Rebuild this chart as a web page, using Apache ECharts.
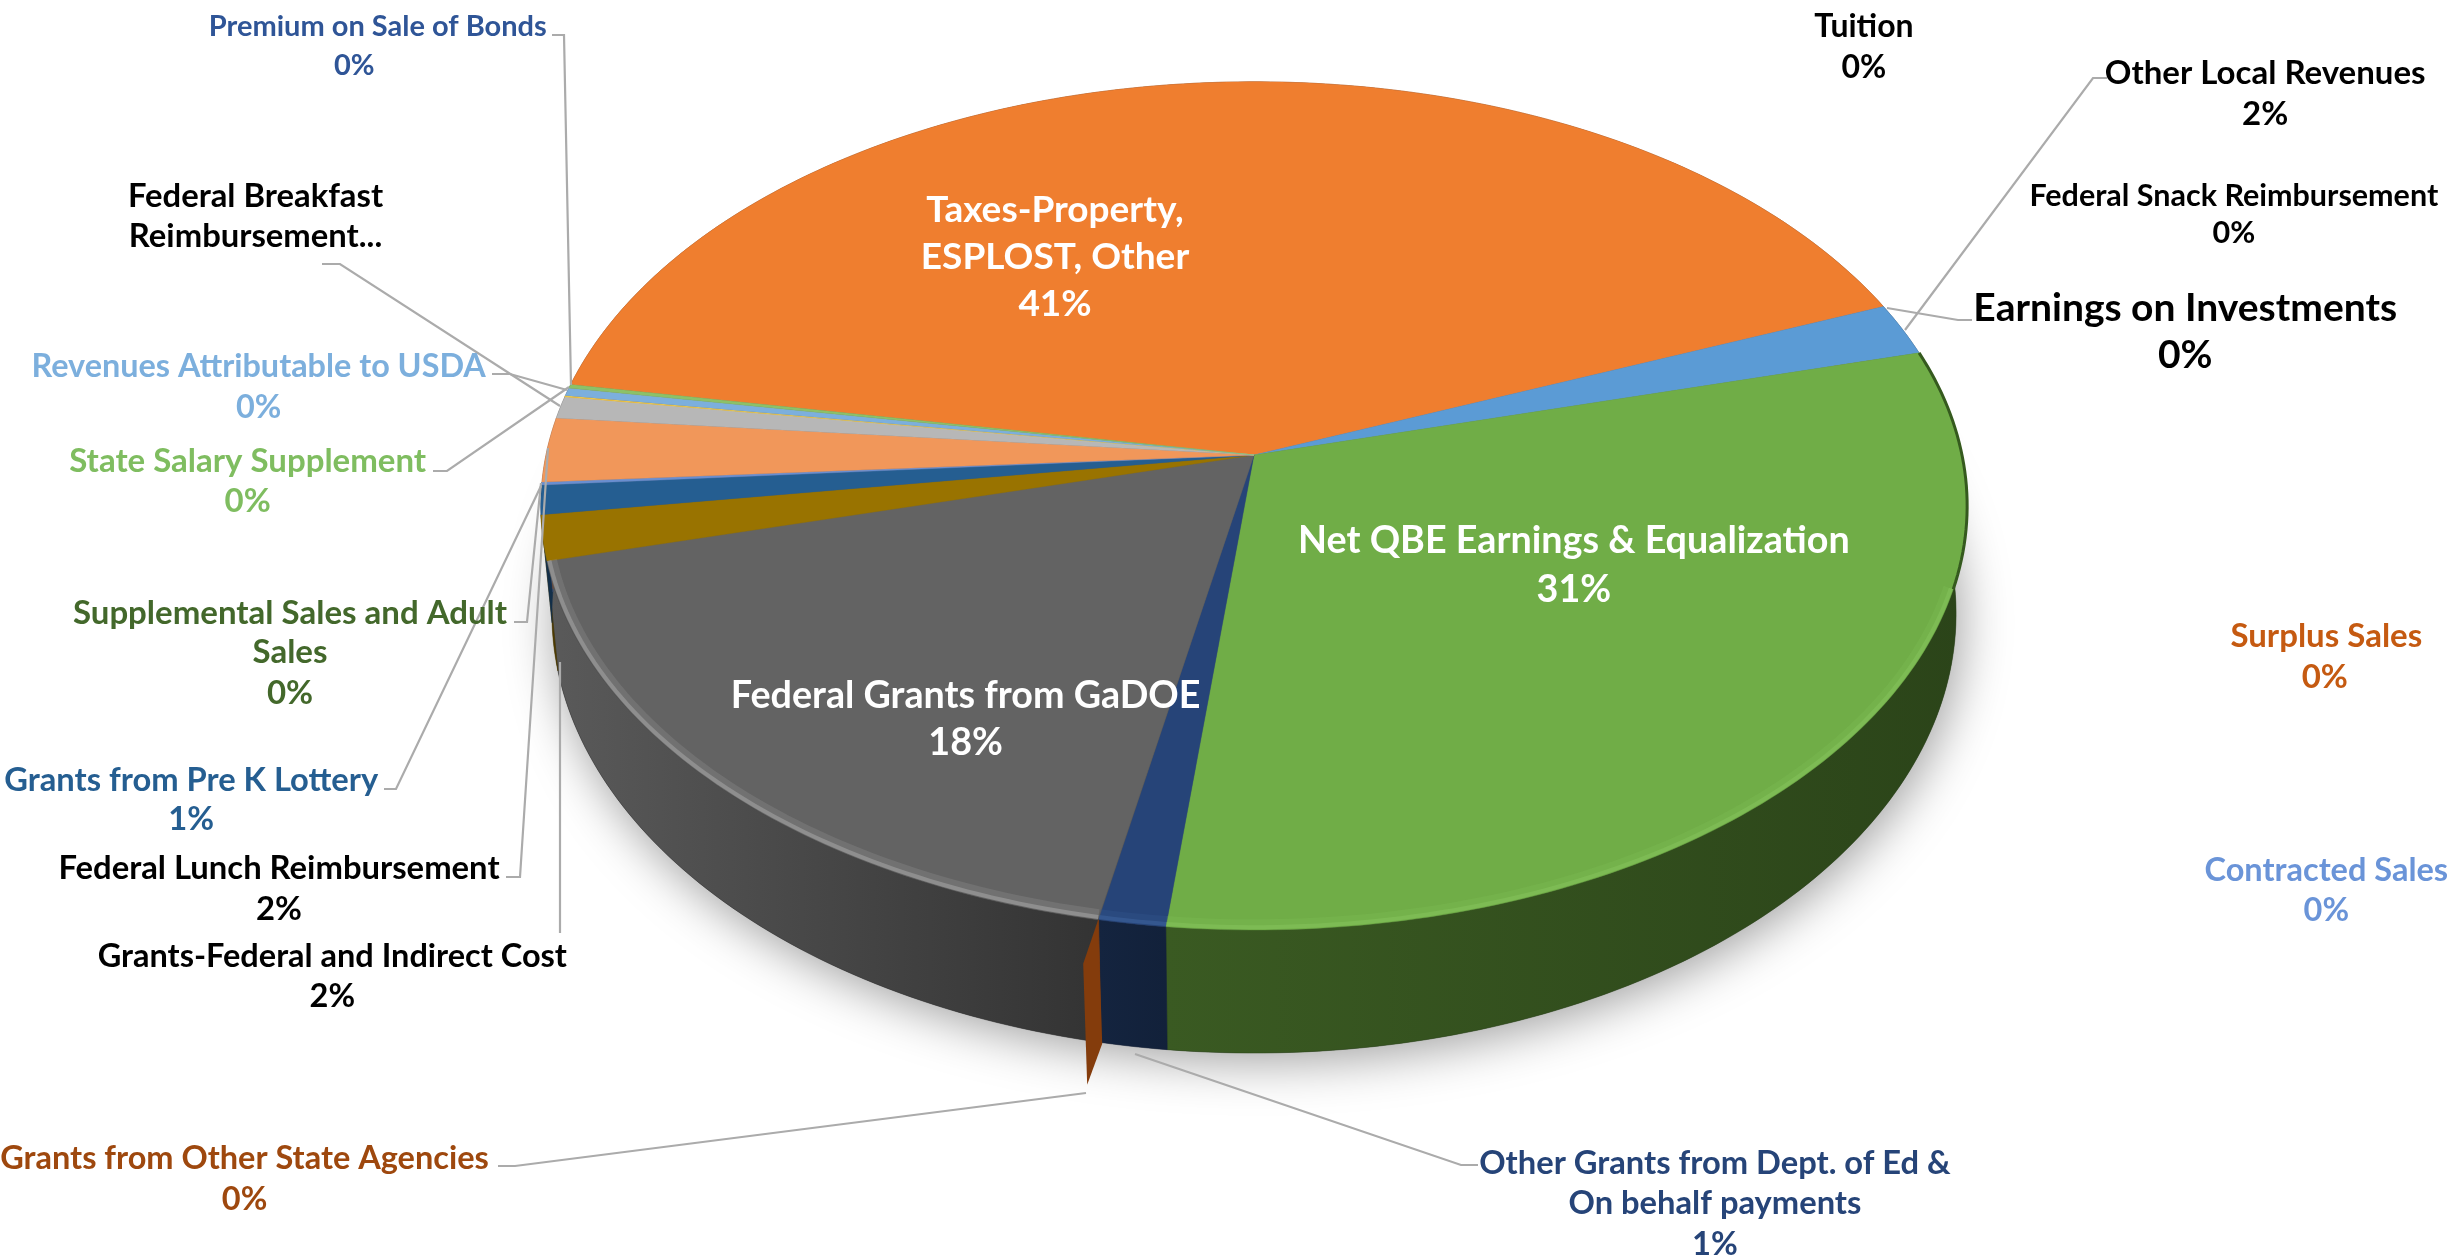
<!DOCTYPE html>
<html><head><meta charset="utf-8">
<style>html,body{margin:0;padding:0;background:#fff}#c{width:2458px;height:1260px}</style>
<script src="https://cdn.jsdelivr.net/npm/echarts@6/dist/echarts.min.js"></script>
</head><body><div id="c"></div>
<script>
// ---------- data (clockwise from the left edge of the orange slice) ----------
const categories = ["Taxes-Property,\nESPLOST, Other","Tuition","Other Local Revenues","Federal Snack Reimbursement","Earnings on Investments","Net QBE Earnings & Equalization","Surplus Sales","Contracted Sales","Other Grants from Dept. of Ed &\nOn behalf payments","Grants from Other State Agencies","Federal Grants from GaDOE","Grants-Federal and Indirect Cost","Grants from Pre K Lottery","Supplemental Sales and Adult\nSales","Federal Lunch Reimbursement","Federal Breakfast\nReimbursement...","Premium on Sale of Bonds","Revenues Attributable to USDA","State Salary Supplement"];
const values = [41.2,0,2.0,0,0,30.8,0,0,1.35,0.02,17.92,1.72,1.11,0.11,2.45,0.83,0.05,0.30,0.14];
const showPercent = [1,1,1,1,1,1,1,1,1,1,1,1,1,1,1,0,1,1,1];

// ---------- styles ----------
const topColors = ["#EF7E2F","#A5A5A5","#5B9BD5","#FFC000","#4472C4","#70AD47","#ED7D31","#4472C4","#264478","#843C0C","#636363","#997300","#255E91","#698ED0","#F1975A","#B7B7B7","#FFCD33","#7CAFDD","#8CC168"];
const rimColors = {5:"#84C25A",8:"#3C609A",10:"#A2A2A2"};
const wallLeft = ["#7a3f18","#555","#2e4e6b","#806000","#223962","#3A5A22","#7a3f18","#223962","#14243F","#843C0C","#5A5A5A","#4d3a00","#132f49","#34476a","#7a4b2d","#5c5c5c","#80661a","#3e586f","#466134"];
const wallRight= ["#7a3f18","#555","#2e4e6b","#806000","#223962","#2B4419","#7a3f18","#223962","#12213A","#843C0C","#333333","#4d3a00","#132f49","#34476a","#7a4b2d","#5c5c5c","#80661a","#3e586f","#466134"];
const labelColors = ["#fff","#000","#000","#000","#000","#fff","#C55A11","#6A94D8","#264478","#9E480E","#fff","#000","#255E91","#43682B","#000","#000","#2F5597","#7CAFDD","#7FBD60"];
const labelSizes = [37,32,33,30.5,39,37.7,33,32.5,32.7,32.5,37.7,32.5,32.7,33,32.8,32.8,29,32.4,33];
const S = 2458/1568;
// text line centres [x,y] in reference-thumbnail units, last one is the percent line when shown
const labelPos = [
 [[673,134],[673,164],[673,194]], [[1189,17],[1189,43]], [[1445,47],[1445,73]], [[1425,125],[1425,149]],
 [[1394,197],[1394,227]], [[1004,345],[1004,376]], [[1484,406],[1483,432]], [[1484,555],[1484,581]],
 [[1094,742],[1094,768],[1094,794]], [[156,739],[156,765]], [[616,444],[616,474]], [[212,610],[212,636]],
 [[122,498],[122,523]], [[185,391],[185,416],[185,442]], [[178,554],[178,580]], [[163,125],[163,151]],
 [[241,17],[226,42]], [[165,234],[165,260]], [[158,294],[158,320]]
];
// leader lines in full pixels
const leaders = [null,null,
 [[1905,330],[2093,78],[2107,78]], null,
 [[1887,308],[1958,320],[1972,320]], null,null,null,
 [[1135,1054],[1461,1165],[1478,1165]],
 [[1086,1093],[515,1166],[498,1166]], null,
 [[560,933],[560,662]],
 [[384,789],[396,789],[541,486]],
 [[514,622],[527,622],[541,483]],
 [[506,877],[520,877],[548,448]],
 [[322,264],[340,264],[560,406]],
 [[552,35],[564,35],[571,385]],
 [[492,374],[510,374],[567,390]],
 [[433,471],[447,471],[569,387]]
];
const wedgeOffsets = [[0,0],[-15,44],[-11,165],[4,124]];

// ---------- projection ----------
const START = 279.9, TOTAL = values.reduce((a,b)=>a+b,0);
const topDisc  = {cx:1254, cy:455, rx:708, ry:418, k:0.12};
const baseDisc = {cx:1254, cy:561, rx:697, ry:433, k:0.12};
const rad = d=>d*Math.PI/180;
function proj(d,a){const u=Math.sin(rad(a)),v=Math.cos(rad(a)),w=1+d.k*v;return [d.cx+d.rx*u/w,d.cy-d.ry*v/w];}
function arc(d,a0,a1){const n=Math.max(1,Math.ceil(Math.abs(a1-a0)));const p=[];for(let i=0;i<=n;i++)p.push(proj(d,a0+(a1-a0)*i/n));return p;}
const bounds=[];let acc=START;values.forEach(v=>{const a0=acc;acc+=v/TOTAL*360;bounds.push([a0,acc]);});

const dataRows = values.map((v,i)=>[i,v]);
const base = {type:'custom',coordinateSystem:'none',silent:true,animation:false};

const option = {
 backgroundColor:'#fff',
 animation:false,
 series:[
 // soft shadow
 {...base,z:1,data:[[0]],renderItem(){return {type:'polygon',shape:{points:arc(baseDisc,0,360)},
   style:{fill:'#555',shadowBlur:50,shadowColor:'rgba(0,0,0,0.38)',shadowOffsetY:8,shadowOffsetX:4}};}},
 // walls
 {...base,z:2,data:dataRows,renderItem(p,api){
   const i=api.value(0),v=api.value(1);if(!v)return {type:'group',children:[]};
   const [a0,a1]=bounds[i];
   const children=[{type:'polygon',shape:{points:arc(topDisc,a0,a1).concat(arc(baseDisc,a1,a0))},
     style:{fill:{type:'linear',x:0,y:0,x2:1,y2:0,colorStops:[{offset:0,color:wallLeft[i]},{offset:1,color:wallRight[i]}]},stroke:wallRight[i],lineWidth:0.5}}];
   if(i===9){const c=proj(topDisc,(a0+a1)/2);
     children.push({type:'polygon',z2:10,shape:{points:wedgeOffsets.map(o=>[c[0]+o[0],c[1]+o[1]])},style:{fill:topColors[i]}});}
   return {type:'group',children};
 }},
 // top surface
 {...base,z:3,data:dataRows,renderItem(p,api){
   const i=api.value(0),v=api.value(1);if(!v||i===9)return {type:'group',children:[]};
   const [a0,a1]=bounds[i];
   return {type:'polygon',shape:{points:[[topDisc.cx,topDisc.cy]].concat(arc(topDisc,a0,a1))},
     style:{fill:topColors[i],stroke:topColors[i],lineWidth:0.4}};
 }},
 // bevel highlight at the front rim and dark edge at the right
 {...base,z:4,data:dataRows,renderItem(p,api){
   const i=api.value(0),v=api.value(1),kids=[];
   if(!v||!rimColors[i])return {type:'group',children:kids};
   const a0=bounds[i][0]-360,a1=bounds[i][1]-360;
   const lo=Math.max(a0,108),hi=Math.min(a1,256);
   const wide={...topDisc,rx:topDisc.rx-5,ry:topDisc.ry-5};
   const thin={...topDisc,rx:topDisc.rx-2.5,ry:topDisc.ry-2.5};
   if(hi>lo){
     kids.push({type:'polyline',shape:{points:arc(wide,lo,hi)},style:{stroke:rimColors[i],lineWidth:10,fill:'none',opacity:0.22}});
     kids.push({type:'polyline',shape:{points:arc(thin,lo,hi)},style:{stroke:rimColors[i],lineWidth:4,fill:'none',opacity:0.6}});
   }
   const l2=Math.max(a0,62),h2=Math.min(a1,108);
   if(h2>l2&&i===5)kids.push({type:'polyline',shape:{points:arc(topDisc,l2,h2)},style:{stroke:'#355a1e',lineWidth:3,fill:'none'}});
   return {type:'group',children:kids};
 }},
 // labels and leader lines
 {...base,z:5,data:dataRows,renderItem(p,api){
   const i=api.value(0),v=api.value(1),kids=[];
   if(leaders[i])kids.push({type:'polyline',shape:{points:leaders[i]},style:{stroke:'#ABABAB',lineWidth:2.2,fill:'none'}});
   const lines=categories[i].split('\n');
   if(showPercent[i])lines.push(Math.round(v)+'%');
   lines.forEach((t,j)=>{const q=labelPos[i][j];
     kids.push({type:'text',style:{text:t,x:q[0]*S,y:q[1]*S,align:'center',verticalAlign:'middle',fill:labelColors[i],
       font:'700 '+labelSizes[i]+'px Lato, "Open Sans", sans-serif'}});});
   return {type:'group',children:kids};
 }}
 ]
};
const chart=echarts.init(document.getElementById('c'),null,{renderer:'canvas'});
chart.setOption(option);
</script></body></html>
